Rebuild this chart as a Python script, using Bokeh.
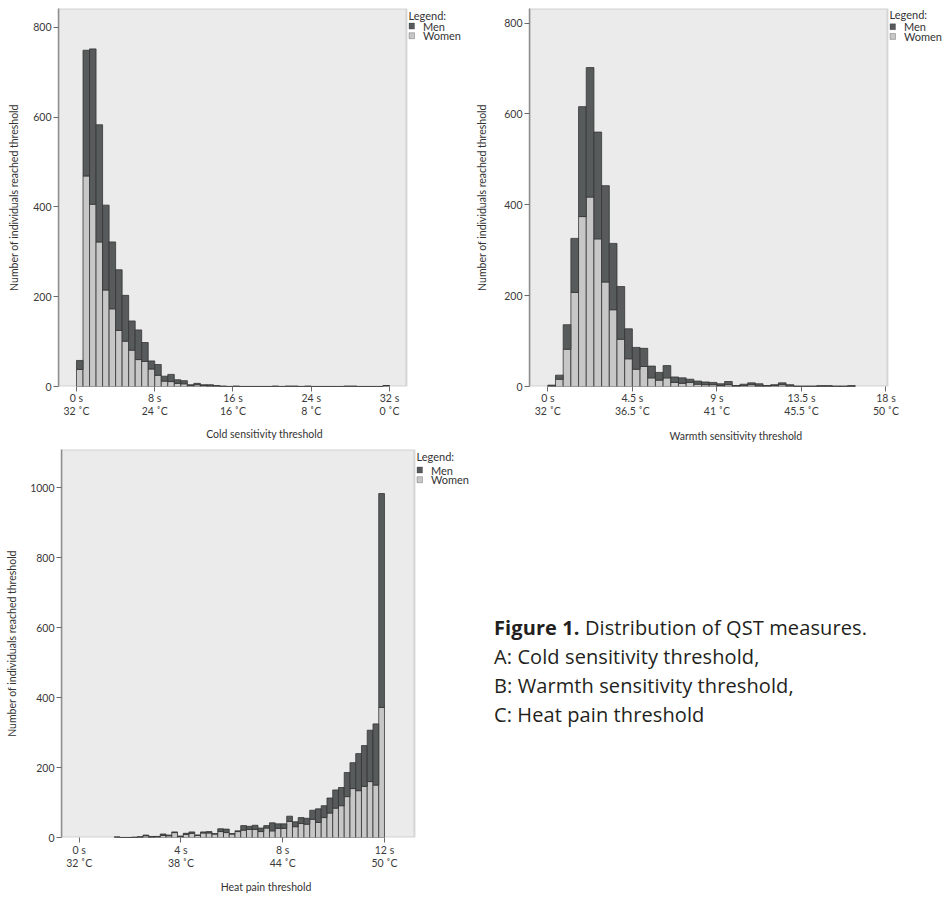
import numpy as np
from bokeh.plotting import figure
from bokeh.models import (ColumnDataSource, FixedTicker, Div, Range1d, BoxAnnotation, Label)
from bokeh.layouts import row, column
from bokeh.embed import file_html
from bokeh.resources import INLINE

# ---------------- data ----------------
# A: Cold sensitivity threshold (bins of 2/3 s starting at 0 s)
cold_bin_s = 2 / 3
cold_women = [38, 469, 406, 322, 215, 173, 125, 101, 81, 60, 56, 39, 25, 12, 11, 7, 6, 2, 4, 2, 1, 1,
              0, 0, 0, 0, 0, 0, 0, 0, 0, 0, 0, 0, 0, 0, 0, 0, 0, 0, 0, 0, 0, 0, 0, 0, 0, 2]
cold_men = [20, 280, 346, 261, 189, 149, 135, 102, 65, 66, 42, 18, 24, 11, 16, 8, 7, 2, 3, 2, 3, 1,
            1, 0, 1, 0, 0, 0, 0, 0, 1, 0, 1, 1, 0, 1, 0, 0, 0, 0, 0, 1, 1, 0, 0, 0, 0, 0]
cold_ticks = [0, 8, 16, 24, 32]
cold_tick_labels = ["0 s\n32 ˚C", "8 s\n24 ˚C", "16 s\n16 ˚C", "24 s\n8 ˚C", "32 s\n0 ˚C"]

# B: Warmth sensitivity threshold (bins of 9/22 s starting at 0 s)
warm_bin_s = 9 / 22
warm_women = [1, 16, 82, 207, 374, 417, 325, 230, 169, 104, 61, 38, 44, 19, 14, 19, 9, 7,
              9, 5, 4, 4, 2, 4, 1, 2, 4, 1, 1, 2, 4, 1, 0, 0, 0, 0, 0, 0, 0, 0]
warm_men = [2, 9, 54, 119, 242, 285, 235, 212, 146, 116, 66, 48, 40, 26, 17, 27, 12, 12,
            7, 7, 6, 5, 4, 7, 1, 3, 4, 5, 1, 2, 4, 3, 1, 1, 1, 2, 2, 1, 1, 2]
warm_ticks = [0, 4.5, 9, 13.5, 18]
warm_tick_labels = ["0 s\n32 ˚C", "4.5 s\n36.5 ˚C", "9 s\n41 ˚C", "13.5 s\n45.5 ˚C", "18 s\n50 ˚C"]

# C: Heat pain threshold (bins of 0.226 s ending at 12 s)
heat_bin_s = 0.226
heat_end_s = 12.0
heat_women = [1, 0, 0, 0, 1, 5, 1, 2, 6, 5, 14, 3, 9, 12, 6, 13, 13, 10, 17, 14, 10, 17, 21, 23,
              23, 17, 27, 19, 26, 26, 46, 31, 40, 38, 52, 43, 57, 70, 84, 91, 117, 140, 134, 146,
              160, 150, 372]
heat_men = [0, 0, 0, 1, 1, 2, 2, 1, 4, 2, 2, 1, 3, 4, 1, 3, 4, 1, 8, 10, 1, 2, 13, 9,
            12, 10, 7, 23, 13, 13, 15, 14, 17, 17, 26, 39, 34, 43, 52, 52, 69, 74, 106, 117,
            147, 175, 612]
heat_ticks = [0, 4, 8, 12]
heat_tick_labels = ["0 s\n32 ˚C", "4 s\n38 ˚C", "8 s\n44 ˚C", "12 s\n50 ˚C"]

legend_title = "Legend:"
legend_labels = ["Men", "Women"]

MEN_COLOR = "#575b5b"
WOMEN_COLOR = "#c7c7c7"
BG = "#ebebeb"
FRAME = "#8e8e8e"
FONT = "Lato"


def panel(centers, width, women, men, xr, yr, ticks, labels, yticks, xlabel,
          fw, fh, bl, ext, bt, bb, ylab_std, xlab_std, tick_std, leg_rows):
    # plot frame is extended to the right (white) so the legend can sit beside the grey area
    dxp = (xr[1] - xr[0]) / fw      # data per pixel (x)
    dyp = (yr[1] - yr[0]) / fh      # data per pixel (y)
    x_end = xr[1] + ext * dxp
    src = ColumnDataSource(dict(x=list(centers), women=women, men=men))
    p = figure(width=bl + fw + ext, height=bt + fh + bb,
               x_range=Range1d(xr[0], x_end), y_range=Range1d(*yr),
               output_backend="svg", toolbar_location=None,
               min_border_left=bl, min_border_right=0, min_border_top=bt, min_border_bottom=bb)
    p.background_fill_color = "white"
    p.border_fill_color = "white"
    p.outline_line_color = None
    p.add_layout(BoxAnnotation(left=xr[0], right=xr[1], bottom=yr[0], top=yr[1],
                               fill_color=BG, fill_alpha=1, line_color=FRAME, line_width=2,
                               level="underlay"))
    p.vbar_stack(["women", "men"], x="x", width=width, source=src,
                 fill_color=[WOMEN_COLOR, MEN_COLOR], line_color="#353535", line_width=0.8)
    p.xgrid.visible = False
    p.ygrid.visible = False
    for ax in (p.xaxis[0], p.yaxis[0]):
        ax.axis_line_color = FRAME
        ax.axis_line_width = 1.5
        ax.major_tick_in = 0
        ax.major_tick_out = 5
        ax.major_tick_line_color = "#6a6a6a"
        ax.minor_tick_line_color = None
        ax.major_label_text_font = FONT
        ax.major_label_text_font_size = "10.5px"
        ax.major_label_text_color = "#3a3a3a"
        ax.major_label_standoff = 2
        ax.axis_label_text_font = FONT
        ax.axis_label_text_font_size = "10.5px"
        ax.axis_label_text_font_style = "normal"
        ax.axis_label_text_color = "#333333"
    p.xaxis.axis_line_color = None
    p.xaxis.ticker = FixedTicker(ticks=ticks)
    p.xaxis.major_label_overrides = {t: l for t, l in zip(ticks, labels)}
    p.xaxis.major_label_standoff = tick_std
    p.xaxis.major_label_text_line_height = 1.1
    p.yaxis.ticker = FixedTicker(ticks=yticks)
    p.xaxis.axis_label = xlabel
    p.xaxis.axis_label_standoff = xlab_std
    p.yaxis.axis_label = "Number of individuals reached threshold"
    p.yaxis.axis_label_standoff = ylab_std

    # legend beside the grey plot area (offsets in pixels from its top-right corner)
    t_off, m_off, w_off = leg_rows
    p.add_layout(Label(x=xr[1] + 2 * dxp, y=yr[1] - t_off * dyp, text=legend_title,
                       text_font=FONT, text_font_size="11px", text_color="#333333",
                       text_baseline="middle", text_align="left"))
    for lab, off, col in zip(legend_labels, (m_off, w_off), (MEN_COLOR, WOMEN_COLOR)):
        p.add_layout(BoxAnnotation(left=xr[1] + 2.5 * dxp, right=xr[1] + 8 * dxp,
                                   top=yr[1] - (off - 3) * dyp, bottom=yr[1] - (off + 3) * dyp,
                                   fill_color=col, fill_alpha=1, line_color="#333333",
                                   line_width=1, level="overlay"))
        p.add_layout(Label(x=xr[1] + 16.5 * dxp, y=yr[1] - off * dyp, text=lab,
                           text_font=FONT, text_font_size="11px", text_color="#333333",
                           text_baseline="middle", text_align="left"))
    return p


cold_centers = (np.arange(len(cold_women)) + 0.5) * cold_bin_s
warm_centers = (np.arange(len(warm_women)) + 0.5) * warm_bin_s
n_heat = len(heat_women)
heat_centers = heat_end_s - (np.arange(n_heat)[::-1] + 0.5) * heat_bin_s

pA = panel(cold_centers, cold_bin_s, cold_women, cold_men, (-1.84, 33.74), (0, 842),
           cold_ticks, cold_tick_labels, [0, 200, 400, 600, 800], "Cold sensitivity threshold",
           348, 378, 58, 64, 8, 60, 10, 8, 0, (6.7, 17.6, 27.2))
pB = panel(warm_centers, warm_bin_s, warm_women, warm_men, (-0.975, 18.08), (0, 832),
           warm_ticks, warm_tick_labels, [0, 200, 400, 600, 800], "Warmth sensitivity threshold",
           358, 388, 59, 55, 3, 55, 13, 10, 0, (6.2, 18.7, 28.7))
pC = panel(heat_centers, heat_bin_s, heat_women, heat_men, (-0.695, 13.18), (0, 1110),
           heat_ticks, heat_tick_labels, [0, 200, 400, 600, 800, 1000], "Heat pain threshold",
           353, 388, 61, 56, 3, 59, 9, 9, 1, (7.4, 20.5, 30.2))

caption = Div(text=(
    '<div style="font-family:\'Open Sans\'; font-size:20px; line-height:29px; color:#231f20; '
    'letter-spacing:0.1px; padding-top:162px; padding-left:19px; white-space:nowrap;">'
    '<b>Figure 1.</b> Distribution of QST measures.<br>'
    'A: Cold sensitivity threshold,<br>'
    'B: Warmth sensitivity threshold,<br>'
    'C: Heat pain threshold</div>'), width=460, height=440)

layout = column(row(pA, pB, spacing=0), row(pC, caption, spacing=0), spacing=0)

open("out.html", "w").write(file_html(layout, INLINE))
